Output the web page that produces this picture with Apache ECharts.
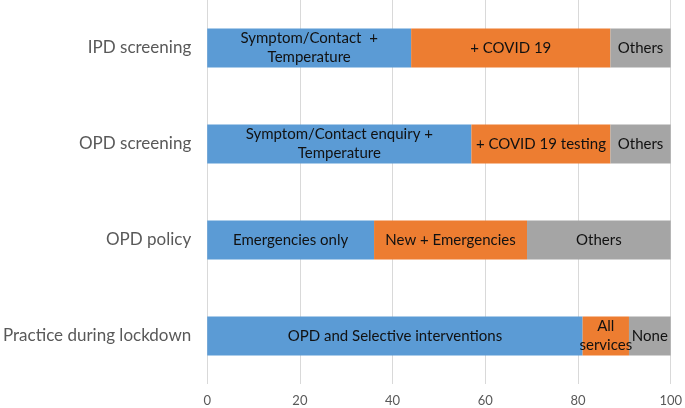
<!DOCTYPE html>
<html><head><meta charset="utf-8">
<script src="https://cdn.jsdelivr.net/npm/echarts@6/dist/echarts.min.js"></script>
<style>html,body{margin:0;padding:0;background:#fff}#c{width:685px;height:408px}</style>
</head><body><div id="c"></div>
<script>
const categories = ["Practice during lockdown", "OPD policy", "OPD screening", "IPD screening"];
const seriesNames = ["First", "Second", "Third"];
const firstValues = [81, 36, 57, 44];
const secondValues = [10, 33, 30, 43];
const thirdValues = [9, 31, 13, 13];
const firstLabels = ["OPD and Selective interventions", "Emergencies only", "Symptom/Contact enquiry +\nTemperature", "Symptom/Contact  +\nTemperature"];
const secondLabels = ["All\nservices", "New + Emergencies", "+ COVID 19 testing", "+ COVID 19"];
const thirdLabels = ["None", "Others", "Others", "Others"];
const xTicks = [0, 20, 40, 60, 80, 100];

const colors = ["#5B9BD5", "#ED7D31", "#A5A5A5"];
const FONT = "Lato, 'Open Sans', sans-serif";
function mk(name, vals, labels, color) {
  return {
    name: name, type: 'bar', stack: 'all', barWidth: 39,
    itemStyle: { color: color },
    label: { show: true, position: 'inside', color: '#111', fontFamily: FONT, fontSize: 15, lineHeight: 19,
      formatter: p => labels[p.dataIndex] },
    labelLayout: { hideOverlap: false },
    data: vals
  };
}
const chart = echarts.init(document.getElementById('c'));
chart.setOption({
  animation: false,
  grid: { left: 206, right: 11, top: 0, bottom: 24, containLabel: false },
  xAxis: {
    type: 'value', min: xTicks[0], max: xTicks[xTicks.length - 1], interval: 20,
    axisLine: { show: false }, axisTick: { show: false },
    splitLine: { show: true, lineStyle: { color: '#D9D9D9', width: 1 } },
    axisLabel: { color: '#595959', fontFamily: FONT, fontSize: 13, margin: 10 }
  },
  yAxis: {
    type: 'category', data: categories,
    axisLine: { show: false }, axisTick: { show: false },
    axisLabel: { color: '#595959', fontFamily: FONT, fontSize: 17, margin: 16 }
  },
  series: [
    mk(seriesNames[0], firstValues, firstLabels, colors[0]),
    mk(seriesNames[1], secondValues, secondLabels, colors[1]),
    mk(seriesNames[2], thirdValues, thirdLabels, colors[2])
  ]
});
</script></body></html>
